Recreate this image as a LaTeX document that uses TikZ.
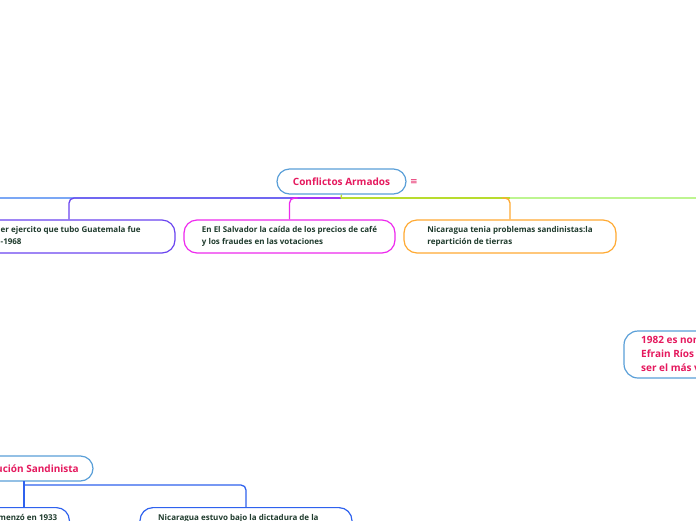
\documentclass[tikz,border=0pt]{standalone}
\usepackage{fontspec}
\usetikzlibrary{calc}
\setmainfont{Open Sans}
\newfontfamily\symfont{DejaVu Sans}
\definecolor{crim}{HTML}{E5195E}
\definecolor{rootblue}{HTML}{5A9FD8}
\definecolor{txtgreen}{HTML}{1F3B2D}
\definecolor{cpurple}{HTML}{6B45F0}
\definecolor{cviolet}{HTML}{A235F5}
\definecolor{cmagenta}{HTML}{EE2AEE}
\definecolor{clblue}{HTML}{7BA7F5}
\definecolor{cygreen}{HTML}{B8DC2E}
\definecolor{clgreen}{HTML}{BDF590}
\definecolor{corange}{HTML}{FFAA33}
\definecolor{cblue}{HTML}{2F62EE}
\tikzset{
  pill/.style={draw=rootblue, line width=1.2pt, fill=white, rounded corners=12.5pt, minimum height=25pt, inner sep=0pt},
  childbox/.style={draw=#1, line width=1.2pt, fill=white, rounded corners=13pt, minimum height=33pt, minimum width=211pt, inner sep=0pt, align=left, text=txtgreen, font=\bfseries\fontsize{8}{12}\selectfont},
  maintxt/.style={text=crim, font=\bfseries\fontsize{10}{12}\selectfont, inner sep=0pt},
  smalltxt/.style={text=txtgreen, font=\bfseries\fontsize{8}{12}\selectfont, inner sep=0pt, align=left},
  conn/.style={line width=1.3pt, draw=#1},
}
\begin{document}
\begin{tikzpicture}[x=1pt,y=-1pt]
\useasboundingbox (0,0) rectangle (696,520);
\clip (0,0) rectangle (696,520);
\fill[white] (0,0) rectangle (696,520);

% connector hubs
\coordinate (hub) at (341,198);
\coordinate (offL) at (-10,198);
\coordinate (offR) at (706,198);

% nodes
\node[pill, minimum width=129pt, text=crim, font=\bfseries\fontsize{10}{12}\selectfont] (root) at (341.5,181.5) {Conflictos Armados};
\node[text=crim, font=\symfont\fontsize{9}{10}\selectfont, inner sep=0pt] (menu) at (414,182) {≡};

\node[childbox=cpurple, minimum width=212pt] (b1) at (69,236.5) {};
\node[smalltxt, anchor=north west] (t1) at (0.5,226) {er ejercito que tubo Guatemala fue\\-1968};
\node[childbox=cmagenta] (b2) at (289.5,236.5) {En El Salvador la caída de los precios de café\\y los fraudes en las votaciones};
\node[childbox=corange, minimum width=212pt] (b3) at (510,236.5) {Nicaragua tenia problemas sandinistas:la\\repartición de tierras};

\node[draw=rootblue, line width=1.2pt, fill=white, rounded corners=14pt, minimum width=160pt, minimum height=47pt, inner sep=0pt] (r1982) at (704,354.5) {};
\node[anchor=north west, text=crim, font=\bfseries\fontsize{10}{14}\selectfont, align=left, inner sep=0pt] (t1982) at (641,336.5) {1982 es nom\\Efrain Ríos\\ser el más v};

\node[pill, minimum width=153pt] (rev) at (16.5,468.5) {};
\node[maintxt, anchor=east] (trev) at (79,468.5) {ución Sandinista};

\node[draw=cblue, line width=1.2pt, fill=white, rounded corners=13pt, minimum width=212pt, minimum height=40pt, inner sep=0pt, anchor=north east] (lc) at (70,507) {};
\node[draw=cblue, line width=1.2pt, fill=white, rounded corners=13pt, minimum width=212pt, minimum height=40pt, inner sep=0pt, anchor=north] (rc) at (246,507) {};
\node[smalltxt, anchor=base east] (tlc) at (57.5,520) {menzó en 1933};
\node[smalltxt, anchor=base west] (trc) at (158,520) {Nicaragua estuvo bajo la dictadura de la};

% connectors top
\draw[conn=clblue] (hub) -- (offL);
\draw[conn=cpurple, rounded corners=5pt] (hub) -| (b1.north);
\draw[conn=cviolet] (hub) -- (b2.north |- hub);
\draw[conn=cmagenta, rounded corners=5pt] ($(b2.north |- hub)+(8,0)$) -| (b2.north);
\draw[conn=clgreen] (hub) -- (offR);
\draw[conn=cygreen] (hub) -- (b3.north |- hub);
\draw[conn=corange, rounded corners=5pt] ($(b3.north |- hub)+(-8,0)$) -| (b3.north);
\draw[conn=cygreen] (root.south) -- (hub);

% connectors bottom
\coordinate (revstem) at (24,481);
\coordinate (lctop) at (24,507);
\coordinate (revbend) at (24,485);
\draw[conn=cblue] (revstem) -- (lctop);
\draw[conn=cblue, rounded corners=5pt] (revbend) -| (rc.north);
\end{tikzpicture}
\end{document}
